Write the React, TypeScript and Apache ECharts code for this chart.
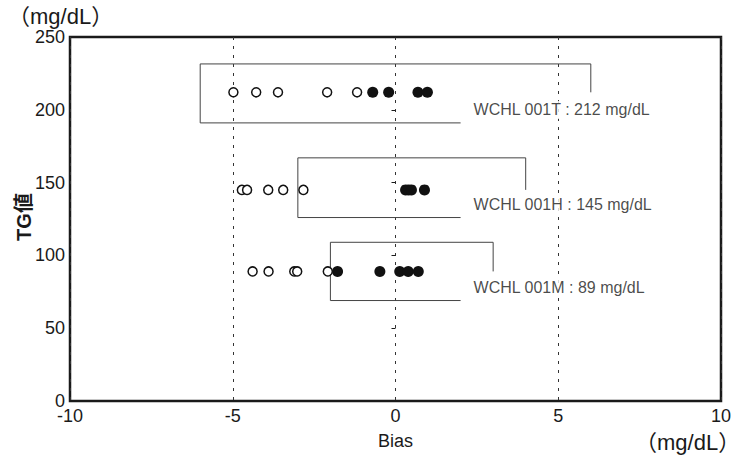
import React, { useEffect, useRef } from "react";
import * as echarts from "echarts";

// Sample levels (TG value, mg/dL)
const levels = [212, 145, 89];
const levelNames = ["WCHL 001T : 212 mg/dL", "WCHL 001H : 145 mg/dL", "WCHL 001M : 89 mg/dL"];

// Bias values (open circles)
const openBias = [
  [-4.98, -4.28, -3.61, -2.1, -1.18],
  [-4.72, -4.56, -3.91, -3.45, -2.83],
  [-4.39, -3.9, -3.11, -3.02, -2.08],
];
// Bias values (filled circles)
const filledBias = [
  [-0.7, -0.21, 0.69, 0.98],
  [0.31, 0.4, 0.49, 0.89],
  [-1.78, -0.48, 0.13, 0.39, 0.7],
];

// Bracket ranges (data units)
const bracketLeft = [-6, -3, -2];
const bracketRight = [6, 4, 3];
const bracketTop = [231.5, 167, 109];
const bracketBottom = [191, 126, 69];
const bracketEnd = 2;

const xTicks = { min: -10, max: 10, interval: 5 };
const yTicks = { min: 0, max: 250, interval: 50 };

const FONT = "'Liberation Sans', Arial, 'Noto Sans CJK JP', sans-serif";

export default function App() {
  const ref = useRef<HTMLDivElement>(null);
  useEffect(() => {
    if (!ref.current) return;
    const chart = echarts.init(ref.current, null, { renderer: "svg" });

    const openData: number[][] = [];
    openBias.forEach((row, i) => row.forEach((b) => openData.push([b, levels[i]])));
    const filledData: number[][] = [];
    filledBias.forEach((row, i) => row.forEach((b) => filledData.push([b, levels[i]])));

    const bracketSeries = levels.map((v, i) => ({
      type: "line",
      data: [
        [bracketEnd, bracketBottom[i]],
        [bracketLeft[i], bracketBottom[i]],
        [bracketLeft[i], bracketTop[i]],
        [bracketRight[i], bracketTop[i]],
        [bracketRight[i], v],
      ],
      symbol: "none",
      lineStyle: { color: "#444", width: 1 },
      silent: true,
      z: 2,
    }));

    const labelSeries = {
      type: "scatter",
      data: levels.map((v, i) => ({ value: [bracketEnd, bracketBottom[i]], name: levelNames[i] })),
      symbolSize: 0,
      z: 5,
      label: {
        show: true,
        position: "right",
        formatter: (p: any) => p.name,
        offset: [6, -13],
        fontSize: 16,
        fontFamily: FONT,
        color: "#1a1a1a",
        backgroundColor: "#fff",
        padding: [1, 2],
      },
    };

    chart.setOption({
      animation: false,
      backgroundColor: "#fff",
      grid: {
        left: 70,
        right: 20,
        top: 37,
        bottom: 60,
        outerBoundsMode: "none",
        containLabel: false,
        show: true,
        borderColor: "#1a1a1a",
        borderWidth: 2.5,
        backgroundColor: "transparent",
      },
      xAxis: {
        type: "value",
        min: xTicks.min,
        max: xTicks.max,
        interval: xTicks.interval,
        name: "Bias",
        nameLocation: "middle",
        nameGap: 31,
        nameTextStyle: { fontSize: 18, fontFamily: FONT, color: "#1a1a1a" },
        axisLine: { show: false },
        axisTick: { show: false },
        axisLabel: { fontSize: 18, fontFamily: FONT, color: "#1a1a1a", margin: 6 },
        splitLine: { show: true, lineStyle: { color: "#333", width: 1, type: [3, 6] } },
      },
      yAxis: {
        type: "value",
        min: yTicks.min,
        max: yTicks.max,
        interval: yTicks.interval,
        axisLine: { show: false },
        axisTick: { show: true, length: 4, lineStyle: { color: "#1a1a1a", width: 1 } },
        axisLabel: { fontSize: 18, fontFamily: FONT, color: "#1a1a1a", margin: 5 },
        splitLine: { show: false },
      },
      graphic: [
        {
          type: "text",
          x: 24,
          y: 217,
          rotation: Math.PI / 2,
          style: {
            text: "TG値",
            fontSize: 20,
            fontWeight: "bold",
            fontFamily: FONT,
            fill: "#1a1a1a",
            align: "center",
            verticalAlign: "middle",
          },
        },
        {
          type: "text",
          left: 8,
          top: 5,
          style: { text: "（mg/dL）", fontSize: 22, fontFamily: FONT, fill: "#1a1a1a" },
        },
        {
          type: "text",
          left: 635,
          top: 431,
          style: { text: "（mg/dL）", fontSize: 22, fontFamily: FONT, fill: "#1a1a1a" },
        },
      ],
      series: [
        ...bracketSeries,
        {
          type: "scatter",
          data: openData,
          symbol: "circle",
          symbolSize: 9,
          itemStyle: { color: "#fff", borderColor: "#111", borderWidth: 1.5, opacity: 1 },
          z: 3,
        },
        {
          type: "scatter",
          data: filledData,
          symbol: "circle",
          symbolSize: 11,
          itemStyle: { color: "#111", borderColor: "#111", borderWidth: 0, opacity: 1 },
          z: 4,
        },
        labelSeries,
      ],
    });
    return () => chart.dispose();
  }, []);
  return (
    <div
      ref={ref}
      style={{ position: "fixed", left: 0, top: 0, width: 741, height: 461 }}
    />
  );
}
